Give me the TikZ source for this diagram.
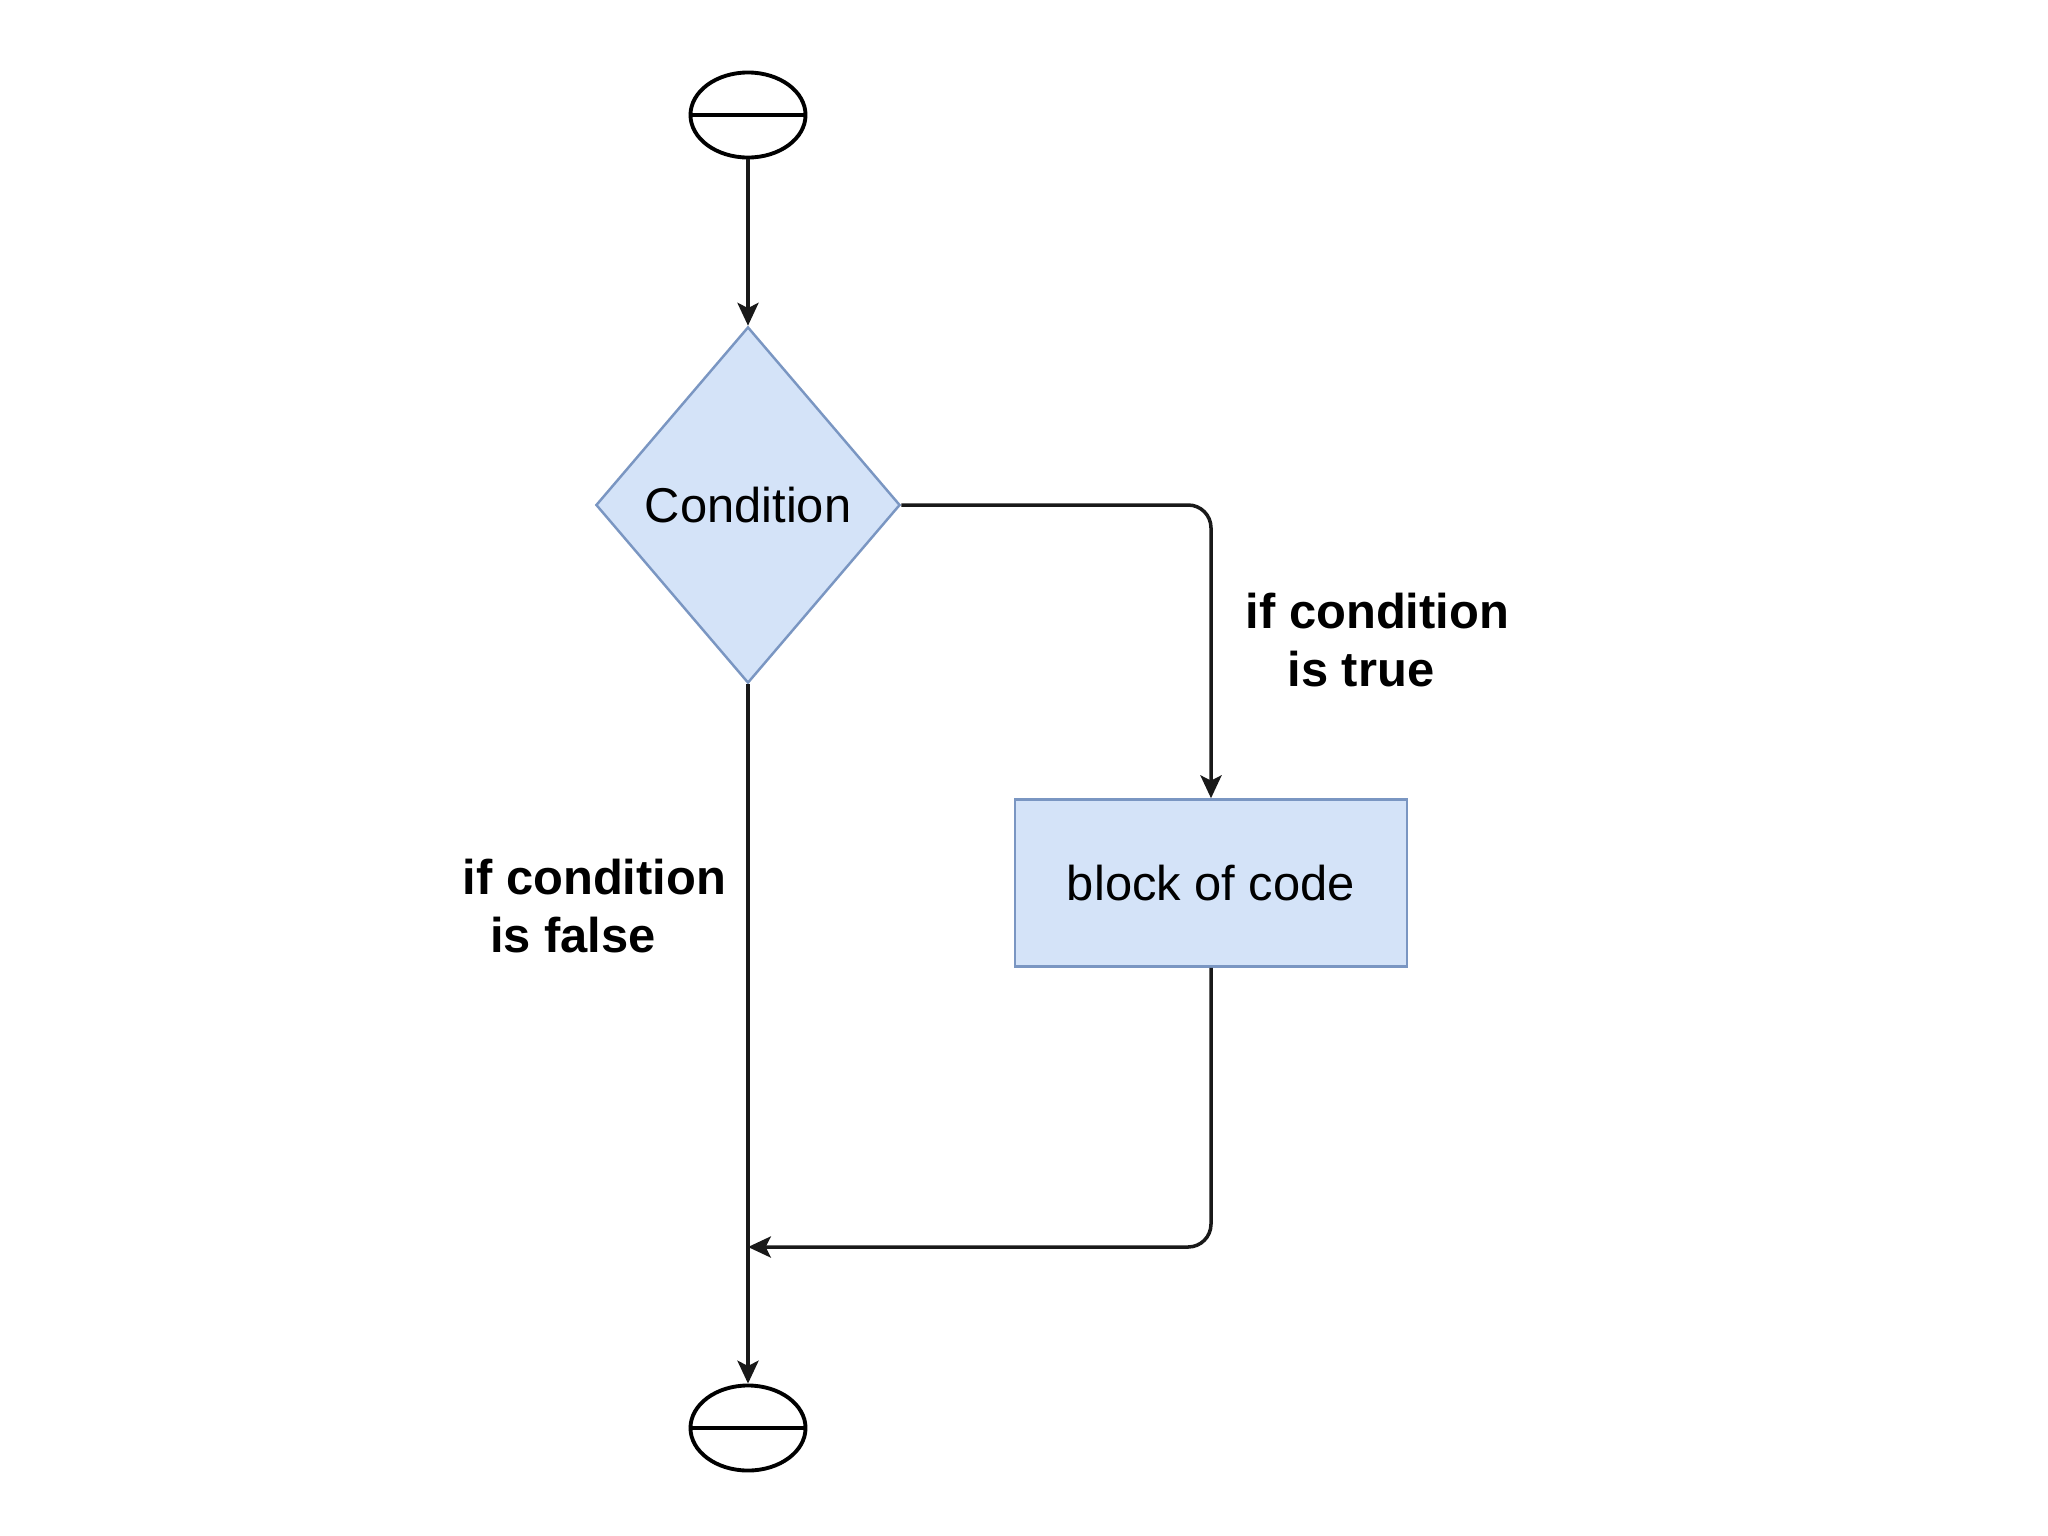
\documentclass[tikz,border=0pt]{standalone}
\usepackage{fontspec}
\setmainfont{Liberation Sans}
\usetikzlibrary{shapes.geometric,arrows.meta}
\definecolor{boxfill}{HTML}{D4E3F8}
\definecolor{boxline}{HTML}{7A96C2}
\tikzset{
  term/.style={ellipse,draw=black,line width=1.1pt,fill=white,minimum width=1.15cm,minimum height=0.85cm,inner sep=0pt},
  decision/.style={diamond,draw=boxline,fill=boxfill,line width=0.7pt,minimum width=3.04cm,minimum height=3.56cm,inner sep=0pt,font=\fontsize{13.9}{16.4}\selectfont},
  process/.style={rectangle,draw=boxline,fill=boxfill,line width=0.7pt,minimum width=3.92cm,minimum height=1.67cm,inner sep=0pt,font=\fontsize{13.9}{16.4}\selectfont},
  conn/.style={draw=black!90,line width=1pt,-{Stealth[length=6.5pt,width=6pt,inset=1.5pt]}},
  lbl/.style={align=left,anchor=base west,inner sep=0pt,font=\bfseries\fontsize{13.9}{16.45}\selectfont}
}
\begin{document}
\begin{tikzpicture}[x=0.01cm,y=-0.01cm]
\useasboundingbox[fill=white] (0,0) rectangle (2048,1536);
\node[term] (start) at (748,115) {};
\draw[line width=1.1pt] (start.west) -- (start.east);
\node[decision] (cond) at (748,505) {Condition};
\node[process] (code) at (1211,883) {block of code};
\node[term] (end) at (748,1428) {};
\draw[line width=1.1pt] (end.west) -- (end.east);
\coordinate (join) at (748,1247);

\draw[conn] (start) -- (cond.north);
\draw[conn,rounded corners=6.5pt] (cond.east) -| (code.north);
\draw[conn,rounded corners=6.5pt] (code.south) |- (join);
\draw[conn] (cond.south) -- (end.north);

\node[lbl] (ltrue) at (1245,686) {if condition\\\hspace*{11.9pt}is true};
\node[lbl] (lfalse) at (462,952) {if condition\\\hspace*{7.8pt}is false};
\end{tikzpicture}
\end{document}
